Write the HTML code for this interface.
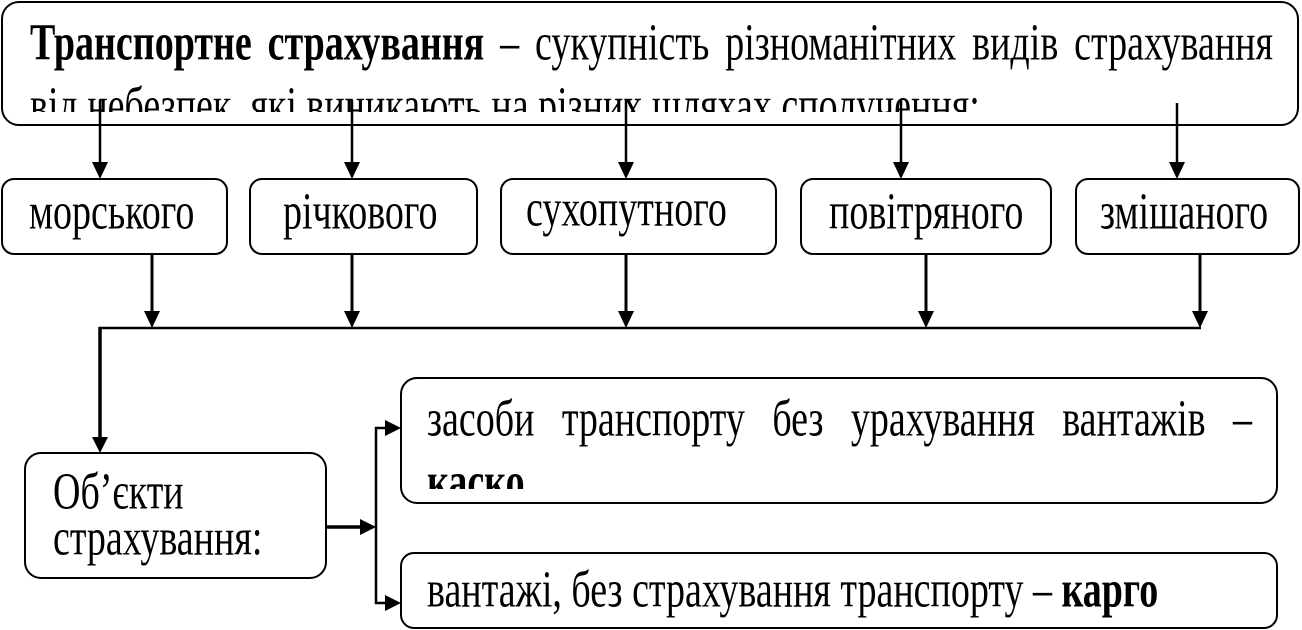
<!DOCTYPE html>
<html>
<head>
<meta charset="utf-8">
<style>
  html, body { margin:0; padding:0; background:#fff; }
  #wrap { position:relative; width:1302px; height:630px; overflow:hidden; background:#fff; }
  svg { position:absolute; left:0; top:0; }
  .t { position:absolute; font-family:"Liberation Serif","DejaVu Serif",serif; font-size:38px; line-height:38px; color:#000; white-space:nowrap; transform:scaleY(1.36); transform-origin:0 32px; }
  .j { text-align:justify; text-align-last:justify; white-space:normal; }
  .clip { position:absolute; overflow:hidden; }
</style>
</head>
<body>
<div id="wrap">
<svg width="1302" height="630" viewBox="0 0 1302 630">
  <g fill="none" stroke="#000" stroke-width="2">
    <rect x="2" y="2" width="1296" height="123" rx="17" ry="17"/>
    <rect x="2" y="179" width="225" height="75" rx="12" ry="12"/>
    <rect x="250" y="179" width="227" height="75" rx="12" ry="12"/>
    <rect x="501" y="179" width="275" height="75" rx="12" ry="12"/>
    <rect x="801" y="179" width="250" height="75" rx="12" ry="12"/>
    <rect x="1076" y="179" width="223" height="75" rx="12" ry="12"/>
    <rect x="25" y="453" width="301" height="125" rx="16" ry="16"/>
    <rect x="401" y="378" width="876" height="125" rx="16" ry="16"/>
    <rect x="401" y="553" width="876" height="75" rx="13" ry="13"/>
  </g>
  <g stroke="#000" fill="none">
    <line x1="100" y1="100" x2="100" y2="165" stroke-width="2.5"/>
    <line x1="352" y1="100" x2="352" y2="165" stroke-width="2.5"/>
    <line x1="626" y1="100" x2="626" y2="165" stroke-width="2.5"/>
    <line x1="901" y1="100" x2="901" y2="165" stroke-width="2.5"/>
    <line x1="1177" y1="103" x2="1177" y2="165" stroke-width="2.5"/>
    <line x1="152" y1="254" x2="152" y2="314" stroke-width="3"/>
    <line x1="352" y1="254" x2="352" y2="314" stroke-width="3"/>
    <line x1="626" y1="254" x2="626" y2="314" stroke-width="3"/>
    <line x1="926" y1="254" x2="926" y2="314" stroke-width="3"/>
    <line x1="1200" y1="254" x2="1200" y2="314" stroke-width="3"/>
    <line x1="99" y1="328" x2="1201" y2="328" stroke-width="2.5"/>
    <line x1="100" y1="327" x2="100" y2="439" stroke-width="3.5"/>
    <line x1="326" y1="527" x2="362" y2="527" stroke-width="3.5"/>
    <line x1="376" y1="427" x2="376" y2="604" stroke-width="2.5"/>
    <line x1="375" y1="428" x2="387" y2="428" stroke-width="2.5"/>
    <line x1="375" y1="603" x2="387" y2="603" stroke-width="2.5"/>
  </g>
  <g fill="#000" stroke="none">
    <polygon points="92,162 108,162 100,179"/>
    <polygon points="344,162 360,162 352,179"/>
    <polygon points="618,162 634,162 626,179"/>
    <polygon points="893,162 909,162 901,179"/>
    <polygon points="1169,162 1185,162 1177,179"/>
    <polygon points="144,311 160,311 152,328"/>
    <polygon points="344,311 360,311 352,328"/>
    <polygon points="618,311 634,311 626,328"/>
    <polygon points="918,311 934,311 926,328"/>
    <polygon points="1192,311 1208,311 1200,328"/>
    <polygon points="92,437 108,437 100,453"/>
    <polygon points="360,519 360,535 376,527"/>
    <polygon points="385,420 385,436 401,428"/>
    <polygon points="385,595 385,611 401,603"/>
  </g>
</svg>

<div class="t j" style="left:30px; top:29px; width:1243px;"><b>Транспортне страхування</b> – сукупність різноманітних видів страхування</div>
<div class="clip" style="left:0; top:0; width:1302px; height:112px;">
  <div class="t" style="left:30px; top:92px;">від небезпек, які виникають на різних шляхах сполучення;</div>
</div>

<div class="t" style="left:29px; top:198px;">морського</div>
<div class="t" style="left:283px; top:198px;">річкового</div>
<div class="t" style="left:526px; top:195px;">сухопутного</div>
<div class="t" style="left:829px; top:198px;">повітряного</div>
<div class="t" style="left:1100px; top:198px;">змішаного</div>

<div class="t" style="left:53px; top:478px;">Об’єкти</div>
<div class="t" style="left:53px; top:524px;">страхування:</div>

<div class="t j" style="left:427px; top:405px; width:825px;">засоби транспорту без урахування вантажів –</div>
<div class="clip" style="left:402px; top:380px; width:870px; height:109px;">
  <div class="t" style="left:25px; top:88px;"><b>каско</b></div>
</div>

<div class="t" style="left:427px; top:576px;">вантажі, без страхування транспорту – <b>карго</b></div>
</div>
</body>
</html>
